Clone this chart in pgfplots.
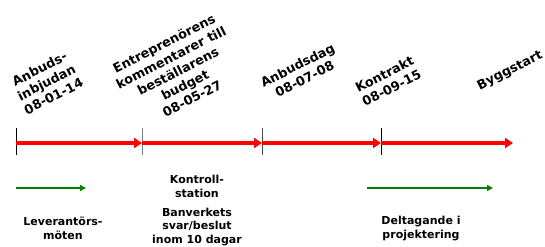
\documentclass[border=0pt]{standalone}
\usepackage{pgfplots}
\pgfplotsset{compat=1.18}
\usepackage{fontspec}
\setmainfont{DejaVu Sans}
\usetikzlibrary{arrows.meta}
\definecolor{redarr}{RGB}{255,0,0}
\definecolor{greenarr}{RGB}{0,128,0}
\begin{document}
\begin{tikzpicture}
\begin{axis}[width=545pt,height=246pt,scale only axis,
  xmin=0,xmax=545,ymin=0,ymax=246,y dir=reverse,hide axis,clip=false]
% tick lines
\addplot[black,line width=0.9pt] coordinates {(16,128) (16,155)};
\addplot[gray,line width=0.9pt] coordinates {(142,128) (142,155)};
\addplot[black!70,line width=0.9pt] coordinates {(262,128) (262,155)};
\addplot[black,line width=0.9pt] coordinates {(381,128) (381,155)};
% red arrows
\addplot[redarr,line width=3.5pt,-{Triangle[length=8pt,width=10pt]}] coordinates {(16,143) (142,143)};
\addplot[redarr,line width=3.5pt,-{Triangle[length=8pt,width=10pt]}] coordinates {(142,143) (262,143)};
\addplot[redarr,line width=3.5pt,-{Triangle[length=8pt,width=10pt]}] coordinates {(262,143) (381,143)};
\addplot[redarr,line width=3.5pt,-{Triangle[length=8pt,width=10pt]}] coordinates {(381,143) (513,143)};
% green arrows
\addplot[greenarr,line width=2pt,-{Triangle[length=6pt,width=6pt]}] coordinates {(16,188) (86,188)};
\addplot[greenarr,line width=2pt,-{Triangle[length=6pt,width=6pt]}] coordinates {(367,188) (493,188)};
% top labels
\begin{scope}[every node/.style={font=\bfseries\fontsize{12.8}{15.4}\selectfont,align=center,rotate=27,inner sep=0pt}]
\node at (axis cs:46.5,82.5) {Anbuds-\\inbjudan\\08-01-14};
\node at (axis cs:178,71) {Entreprenörens\\kommentarer till\\beställarens\\budget\\08-05-27};
\node at (axis cs:301,72) {Anbudsdag\\08-07-08};
\node at (axis cs:388,81) {Kontrakt\\08-09-15};
\node at (axis cs:510,71) {Byggstart};
\end{scope}
% bottom labels
\begin{scope}[every node/.style={font=\bfseries\fontsize{11}{13.5}\selectfont,align=center,inner sep=0pt}]
\node at (axis cs:63,228.5) {Leverantörs-\\möten};
\node at (axis cs:197,186.5) {Kontroll-\\station};
\node at (axis cs:197,227) {Banverkets\\svar/beslut\\inom 10 dagar};
\node at (axis cs:421,228.5) {Deltagande i\\projektering};
\end{scope}
\end{axis}
\pgfresetboundingbox
\path (current axis.south west) rectangle (current axis.north east);
\end{tikzpicture}
\end{document}
